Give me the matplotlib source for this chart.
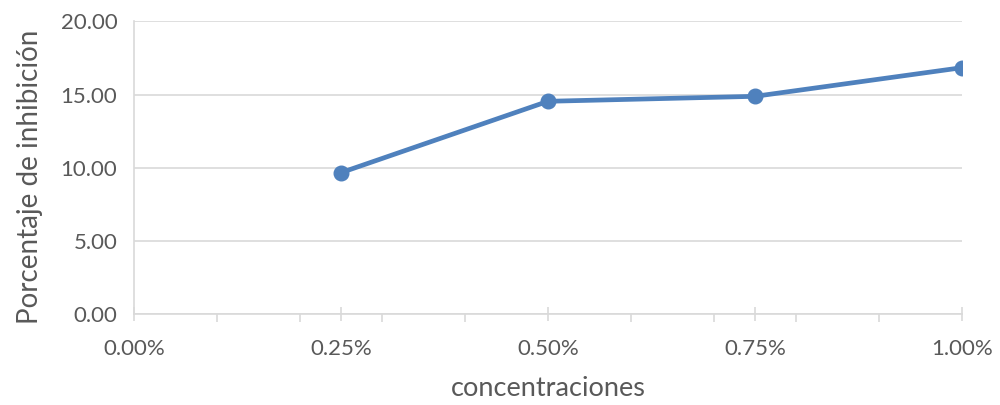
import matplotlib.pyplot as plt
from matplotlib.ticker import MultipleLocator, FuncFormatter

concentraciones = [0.25, 0.50, 0.75, 1.00]
inhibicion = [9.66, 14.54, 14.88, 16.84]

gris = "#595959"
linea = "#D9D9D9"
azul = "#4F81BD"

plt.rcParams["font.family"] = ["Lato", "DejaVu Sans"]

fig = plt.figure(figsize=[10, 4.05], dpi=100)
ax = fig.add_axes([0.134, 0.225, 0.828, 0.722])

ax.plot(concentraciones, inhibicion, color=azul, linewidth=3.4,
        marker="o", markersize=10.5, solid_capstyle="round", zorder=3)

ax.set_xlim(0, 1.0)
ax.set_ylim(0, 20)
ax.xaxis.set_major_locator(MultipleLocator(0.25))
ax.xaxis.set_minor_locator(MultipleLocator(0.1))
ax.yaxis.set_major_locator(MultipleLocator(5))
ax.xaxis.set_major_formatter(FuncFormatter(lambda v, p: f"{v:.2f}%"))
ax.yaxis.set_major_formatter(FuncFormatter(lambda v, p: f"{v:.2f}"))

ax.grid(axis="y", color=linea, linewidth=1.2)
ax.set_axisbelow(True)
for s in ["top", "right"]:
    ax.spines[s].set_visible(False)
for s in ["left", "bottom"]:
    ax.spines[s].set_color(linea)
    ax.spines[s].set_linewidth(1.2)

ax.tick_params(axis="x", which="major", direction="inout", length=10, width=1.2,
               color=linea, labelsize=16, labelcolor=gris, pad=13)
ax.tick_params(axis="x", which="minor", direction="out", length=6, width=1.2, color=linea)
ax.tick_params(axis="y", length=0, labelsize=16, labelcolor=gris, pad=12)

ax.set_xlabel("concentraciones", fontsize=19.5, color=gris, labelpad=12)
ax.set_ylabel("Porcentaje de inhibición", fontsize=20, color=gris, labelpad=15)
ax.yaxis.set_label_coords(-0.11, 0.47)

fig.savefig("out.png", dpi=100)
